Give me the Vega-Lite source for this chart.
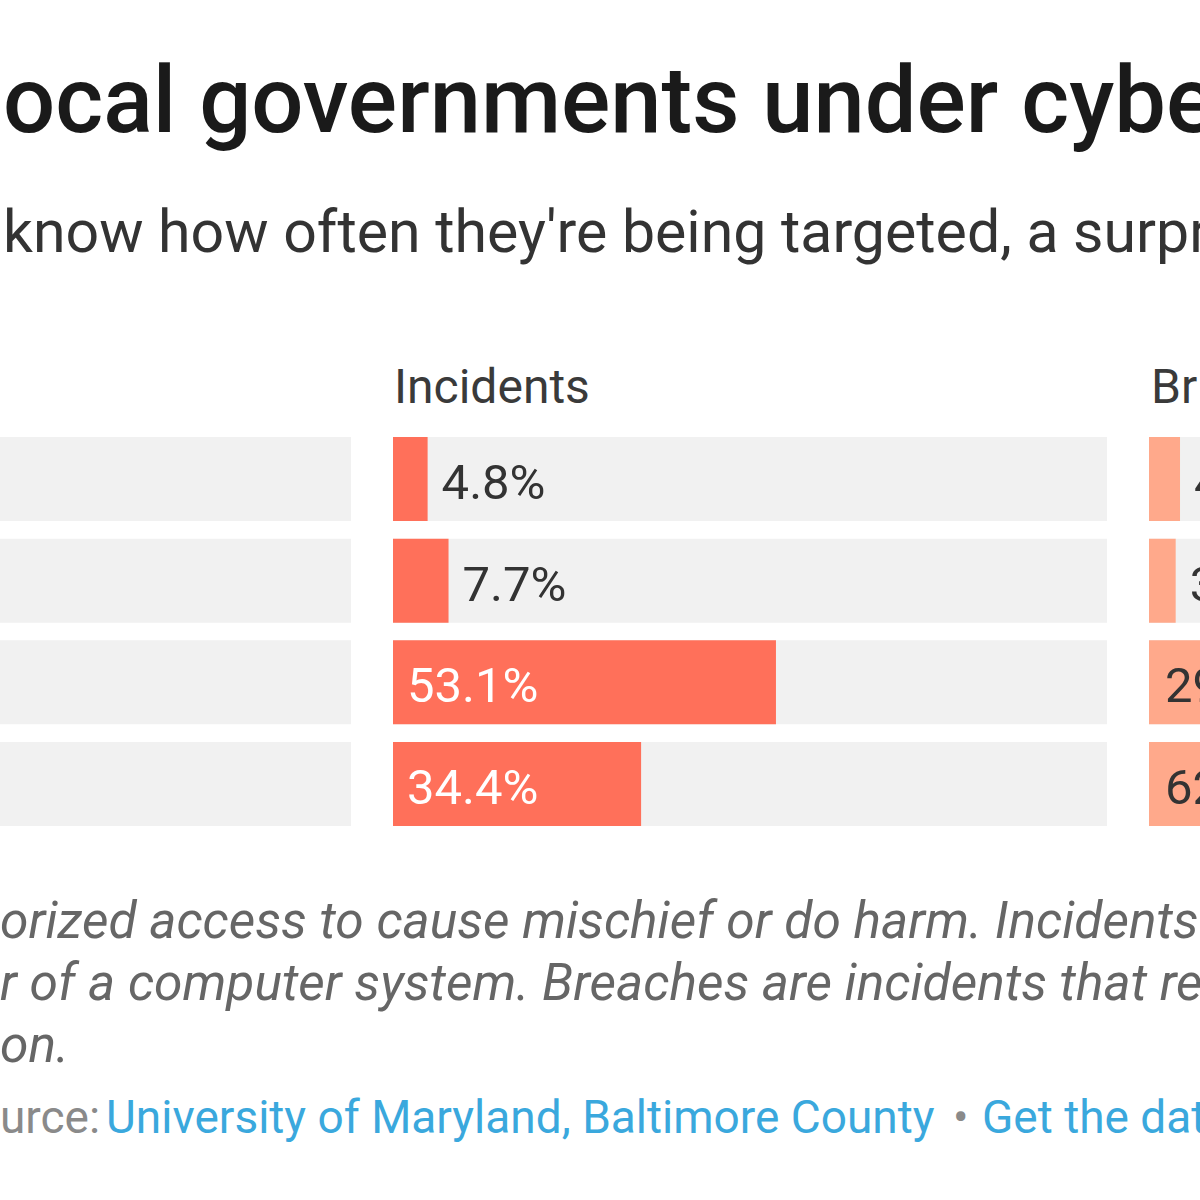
{
  "$schema": "https://vega.github.io/schema/vega-lite/v6.json",
  "background": "white",
  "padding": {"top": 58, "left": 0, "right": 0, "bottom": 0},
  "config": {"font": "Roboto", "view": {"stroke": null}, "concat": {"spacing": 42}},
  "title": {
    "text": "ocal governments under cybe",
    "subtitle": "know how often they're being targeted, a surpr",
    "anchor": "start",
    "font": "Roboto",
    "fontSize": 92,
    "fontWeight": 500,
    "color": "#1a1a1a",
    "subtitleFont": "Roboto",
    "subtitleFontSize": 59,
    "subtitleFontWeight": 400,
    "subtitleColor": "#333333",
    "subtitlePadding": 54,
    "offset": 100,
    "dx": 3
  },
  "datasets": {
    "rows": [
      {"answer": "Hourly or more", "incidents": 4.8, "incidents_label": "4.8%", "breaches": 4.3, "breaches_label": "4.3%"},
      {"answer": "At least daily", "incidents": 7.7, "incidents_label": "7.7%", "breaches": 3.7, "breaches_label": "3.7%"},
      {"answer": "Less often", "incidents": 53.1, "incidents_label": "53.1%", "breaches": 29.5, "breaches_label": "29.5%"},
      {"answer": "Don't know", "incidents": 34.4, "incidents_label": "34.4%", "breaches": 62.5, "breaches_label": "62.5%"}
    ]
  },
  "vconcat": [
    {
      "hconcat": [
        {
          "width": 351,
          "height": 389,
          "data": {"name": "rows"},
          "mark": {"type": "bar", "color": "#f1f1f1"},
          "encoding": {
            "y": {"field": "answer", "type": "nominal", "sort": null, "axis": null, "scale": {"paddingInner": 0.174, "paddingOuter": 0}},
            "x": {"datum": 0, "type": "quantitative", "scale": {"domain": [0, 1], "nice": false}, "axis": null},
            "x2": {"datum": 1}
          }
        },
        {
          "width": 714,
          "height": 389,
          "data": {"name": "rows"},
          "title": {"text": "Incidents", "anchor": "start", "fontSize": 48, "fontWeight": 400, "color": "#3a3a3a", "offset": 24, "dx": 1},
          "encoding": {
            "y": {"field": "answer", "type": "nominal", "sort": null, "axis": null, "scale": {"paddingInner": 0.174, "paddingOuter": 0}}
          },
          "layer": [
            {
              "mark": {"type": "bar", "color": "#f1f1f1"},
              "encoding": {
                "x": {"datum": 0, "type": "quantitative", "scale": {"domain": [0, 99], "nice": false, "zero": true}, "axis": null},
                "x2": {"datum": 99}
              }
            },
            {
              "mark": {"type": "bar", "color": "#ff705a"},
              "encoding": {
                "x": {"field": "incidents", "type": "quantitative"}
              }
            },
            {
              "transform": [{"filter": "datum.incidents < 20"}],
              "mark": {"type": "text", "align": "left", "baseline": "middle", "dx": 14, "dy": 5, "fontSize": 49, "color": "#333333"},
              "encoding": {
                "x": {"field": "incidents", "type": "quantitative"},
                "text": {"field": "incidents_label"}
              }
            },
            {
              "transform": [{"filter": "datum.incidents >= 20"}],
              "mark": {"type": "text", "align": "left", "baseline": "middle", "dx": 14, "dy": 5, "fontSize": 49, "color": "#ffffff"},
              "encoding": {
                "x": {"datum": 0, "type": "quantitative"},
                "text": {"field": "incidents_label"}
              }
            }
          ]
        },
        {
          "width": 51,
          "height": 389,
          "data": {"name": "rows"},
          "title": {"text": "Br", "anchor": "start", "fontSize": 48, "fontWeight": 400, "color": "#3a3a3a", "offset": 24, "dx": 2},
          "encoding": {
            "y": {"field": "answer", "type": "nominal", "sort": null, "axis": null, "scale": {"paddingInner": 0.174, "paddingOuter": 0}}
          },
          "layer": [
            {
              "mark": {"type": "bar", "color": "#f1f1f1", "clip": true},
              "encoding": {
                "x": {"datum": 0, "type": "quantitative", "scale": {"domain": [0, 7.07], "nice": false}, "axis": null},
                "x2": {"datum": 99}
              }
            },
            {
              "mark": {"type": "bar", "color": "#ffa98b", "clip": true},
              "encoding": {
                "x": {"field": "breaches", "type": "quantitative"}
              }
            },
            {
              "transform": [{"filter": "datum.breaches < 20"}],
              "mark": {"type": "text", "align": "left", "baseline": "middle", "dx": 14, "dy": 5, "fontSize": 49, "color": "#333333", "clip": true},
              "encoding": {
                "x": {"field": "breaches", "type": "quantitative"},
                "text": {"field": "breaches_label"}
              }
            },
            {
              "transform": [{"filter": "datum.breaches >= 20"}],
              "mark": {"type": "text", "align": "left", "baseline": "middle", "dx": 16, "dy": 5, "fontSize": 49, "color": "#333333", "clip": true},
              "encoding": {
                "x": {"datum": 0, "type": "quantitative"},
                "text": {"field": "breaches_label"}
              }
            }
          ]
        }
      ]
    },
    {
      "width": 1200,
      "height": 310,
      "data": {"values": [{"note": "footnote"}]},
      "layer": [
        {
          "mark": {"type": "text", "align": "left", "baseline": "alphabetic", "fontSize": 51.5, "fontStyle": "italic", "color": "#666666", "lineHeight": 62},
          "encoding": {
            "x": {"value": 0},
            "y": {"value": 102},
            "text": {"value": ["orized access to cause mischief or do harm. Incidents", "r of a computer system. Breaches are incidents that re", "on."]}
          }
        },
        {
          "mark": {"type": "text", "align": "left", "baseline": "alphabetic", "fontSize": 46, "color": "#8a8a8a"},
          "encoding": {"x": {"value": 0}, "y": {"value": 297}, "text": {"value": "urce:"}}
        },
        {
          "mark": {"type": "text", "align": "left", "baseline": "alphabetic", "fontSize": 46, "color": "#3aa8dd"},
          "encoding": {"x": {"value": 106}, "y": {"value": 297}, "text": {"value": "University of Maryland, Baltimore County"}}
        },
        {
          "mark": {"type": "text", "align": "left", "baseline": "alphabetic", "fontSize": 46, "color": "#8a8a8a"},
          "encoding": {"x": {"value": 953}, "y": {"value": 297}, "text": {"value": "•"}}
        },
        {
          "mark": {"type": "text", "align": "left", "baseline": "alphabetic", "fontSize": 46, "color": "#3aa8dd"},
          "encoding": {"x": {"value": 982}, "y": {"value": 297}, "text": {"value": "Get the dat"}}
        }
      ]
    }
  ],
  "spacing": 10
}
